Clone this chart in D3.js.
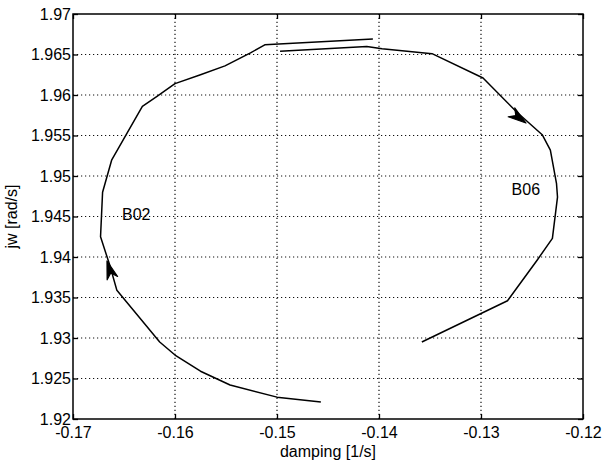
<!DOCTYPE html>
<html>
<head>
<meta charset="utf-8">
<script src="https://cdn.jsdelivr.net/npm/d3@7"></script>
<style>
  body { margin: 0; background: #fff; }
  text { font-family: "Liberation Sans", Arial, sans-serif; fill: #000; }
</style>
</head>
<body>
<script>
// Chart size
const width = 605, height = 463;
const margin = {top: 14, right: 22, bottom: 44, left: 73};

// Axis ticks
const xTicks = [-0.17, -0.16, -0.15, -0.14, -0.13, -0.12];
const yTicks = [1.92, 1.925, 1.93, 1.935, 1.94, 1.945, 1.95, 1.955, 1.96, 1.965, 1.97];

// Trajectory B02 (damping, jw)
const b02Damping = [-0.1457, -0.1500, -0.1546, -0.1575, -0.1600, -0.1615, -0.1657, -0.1664, -0.1673,
                    -0.1671, -0.1662, -0.1632, -0.1618, -0.1600, -0.1575, -0.1551, -0.1526, -0.1512, -0.1406];
const b02Jw = [1.9221, 1.9227, 1.9242, 1.9259, 1.9279, 1.9295, 1.9359, 1.9390, 1.9425,
               1.9480, 1.9520, 1.9586, 1.9598, 1.9614, 1.9625, 1.9636, 1.9652, 1.9662, 1.9669];

// Trajectory B06 (damping, jw)
const b06Damping = [-0.1497, -0.1412, -0.1397, -0.1348, -0.1298, -0.1265, -0.1240, -0.1232,
                    -0.1226, -0.1225, -0.1230, -0.1245, -0.1274, -0.1358];
const b06Jw = [1.9654, 1.9660, 1.9657, 1.9651, 1.9621, 1.9579, 1.9551, 1.9532,
               1.9491, 1.9474, 1.9423, 1.9396, 1.9346, 1.9295];

// Direction arrows: [tip, back]
const arrows = [
  [[-0.16667, 1.93951], [-0.16608, 1.93716]],
  [[-0.12559, 1.95654], [-0.12706, 1.95790]]
];

// Text labels
const labels = [
  {text: "B02", x: -0.1652, y: 1.9452},
  {text: "B06", x: -0.1270, y: 1.9484}
];

const svg = d3.select("body")
      .append("svg")
      .attr("width", width)
      .attr("height", height);

const x = d3.scaleLinear().domain([-0.17, -0.12]).range([margin.left, width - margin.right]);
const y = d3.scaleLinear().domain([1.92, 1.97]).range([height - margin.bottom, margin.top]);

const x0 = x.range()[0], x1 = x.range()[1];
const y0 = y.range()[0], y1 = y.range()[1];

// Dotted grid
const grid = svg.append("g")
      .attr("stroke", "#111")
      .attr("stroke-width", 1.2)
      .attr("stroke-dasharray", "1.2,2.8");

grid.selectAll("line.gx")
    .data(xTicks.slice(1, -1))
    .enter().append("line")
    .attr("x1", d => x(d)).attr("x2", d => x(d))
    .attr("y1", y0).attr("y2", y1);

grid.selectAll("line.gy")
    .data(yTicks.slice(1, -1))
    .enter().append("line")
    .attr("y1", d => y(d)).attr("y2", d => y(d))
    .attr("x1", x0).attr("x2", x1);

// Axes with inward ticks
const fmt = d => String(+d.toFixed(3));

svg.append("g")
    .attr("transform", `translate(0,${y0})`)
    .call(d3.axisBottom(x).tickValues(xTicks).tickFormat(fmt).tickSizeInner(-5).tickSizeOuter(0).tickPadding(8))
    .call(g => g.select(".domain").remove())
    .call(g => g.selectAll("line").attr("stroke-width", 1.3))
    .call(g => g.selectAll("text").style("font-size", "16px").attr("font-family", null));

svg.append("g")
    .attr("transform", `translate(0,${y1})`)
    .call(d3.axisTop(x).tickValues(xTicks).tickFormat("").tickSizeInner(-5).tickSizeOuter(0))
    .call(g => g.select(".domain").remove())
    .call(g => g.selectAll("line").attr("stroke-width", 1.3));

svg.append("g")
    .attr("transform", `translate(${x0},0)`)
    .call(d3.axisLeft(y).tickValues(yTicks).tickFormat(fmt).tickSizeInner(-5).tickSizeOuter(0).tickPadding(2))
    .call(g => g.select(".domain").remove())
    .call(g => g.selectAll("line").attr("stroke-width", 1.3))
    .call(g => g.selectAll("text").style("font-size", "16px").attr("font-family", null));

svg.append("g")
    .attr("transform", `translate(${x1},0)`)
    .call(d3.axisRight(y).tickValues(yTicks).tickFormat("").tickSizeInner(-5).tickSizeOuter(0))
    .call(g => g.select(".domain").remove())
    .call(g => g.selectAll("line").attr("stroke-width", 1.3));

// Frame
svg.append("rect")
    .attr("x", x0).attr("y", y1)
    .attr("width", x1 - x0).attr("height", y0 - y1)
    .attr("fill", "none")
    .attr("stroke", "#000")
    .attr("stroke-width", 1.5);

// Trajectories
const line = d3.line().x(d => x(d[0])).y(d => y(d[1]));

[[b02Damping, b02Jw], [b06Damping, b06Jw]].forEach(([xs, ys]) => {
    svg.append("path")
        .datum(xs.map((v, i) => [v, ys[i]]))
        .attr("d", line)
        .attr("fill", "none")
        .attr("stroke", "#000")
        .attr("stroke-width", 1.5)
        .attr("stroke-linejoin", "round");
});

// Arrow heads
arrows.forEach(([tip, back]) => {
    const tx = x(tip[0]), ty = y(tip[1]);
    const bx = x(back[0]), by = y(back[1]);
    const len = Math.hypot(bx - tx, by - ty);
    const ux = (bx - tx) / len, uy = (by - ty) / len;
    const px = -uy, py = ux;
    const L = 18, W = 5.5;
    const pts = [
        [tx, ty],
        [tx + L * ux + W * px, ty + L * uy + W * py],
        [tx + 0.7 * L * ux, ty + 0.7 * L * uy],
        [tx + L * ux - W * px, ty + L * uy - W * py]
    ];
    svg.append("path")
        .attr("d", "M" + pts.map(p => p.join(",")).join("L") + "Z")
        .attr("fill", "#000")
        .attr("stroke", "#000")
        .attr("stroke-width", 1.2)
        .attr("stroke-linejoin", "round");
});

// Curve labels
svg.selectAll("text.lbl")
    .data(labels)
    .enter().append("text")
    .attr("class", "lbl")
    .attr("x", d => x(d.x))
    .attr("y", d => y(d.y))
    .attr("dy", "0.35em")
    .style("font-size", "16px")
    .text(d => d.text);

// Axis titles
svg.append("text")
    .attr("x", (x0 + x1) / 2)
    .attr("y", height - 6)
    .attr("text-anchor", "middle")
    .style("font-size", "16px")
    .text("damping [1/s]");

svg.append("text")
    .attr("transform", `translate(17,${(y0 + y1) / 2}) rotate(-90)`)
    .attr("text-anchor", "middle")
    .style("font-size", "16px")
    .text("jw [rad/s]");
</script>
</body>
</html>
